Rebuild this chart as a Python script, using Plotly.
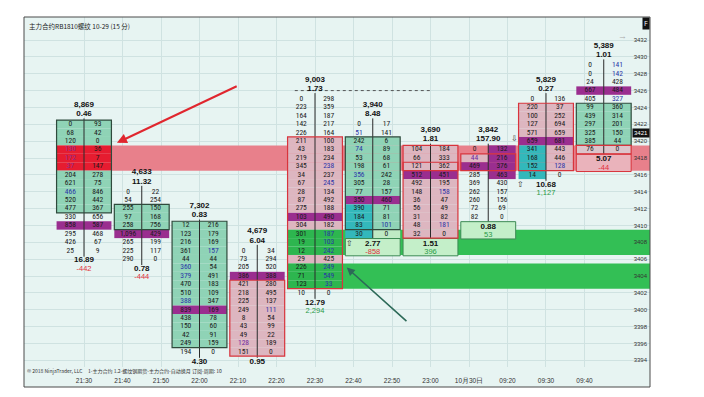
import plotly.graph_objects as go

# ---------------- data ----------------
TIME_TICKS = ["21:30", "21:40", "21:50", "22:00", "22:10", "22:20", "22:30",
              "22:40", "22:50", "23:00", "10月30日", "09:20", "09:30", "09:40"]
PRICE_TICKS = list(range(3394, 3434, 2))
LAST_PRICE = 3421

BAR_VOLUME = [8869, 4633, 7302, 4679, 9003, 3940, 3690, 3842, 5829, 5389]
HEAD_RATIO = ["0.46", "11.32", "0.83", "6.04", "1.73", "8.48", "1.81", "157.90", "0.27", "1.01"]
FOOT_RATIO = ["16.89", "0.78", "4.30", "0.95", "12.79", "2.77", "1.51", "0.88", "10.68", "5.07"]
FOOT_DELTA = [-442, -444, None, None, 2294, -858, 396, 53, 1127, -44]
TOP_PRICE = [3422, 3414, 3410, 3407, 3425, 3422, 3419, 3419, 3425, 3429]

BID_VOL = [
    [0, 68, 120, 130, 172, 37, 204, 621, 466, 520, 477, 330, 858, 295, 426, 25],
    [0, 54, 255, 97, 258, 1096, 265, 225, 290],
    [12, 123, 216, 361, 44, 360, 379, 470, 510, 388, 839, 438, 150, 42, 249, 194],
    [0, 73, 205, 386, 421, 218, 225, 249, 8, 43, 49, 128, 151],
    [0, 223, 164, 142, 226, 211, 43, 219, 345, 34, 67, 28, 87, 275, 103, 304,
     301, 19, 12, 29, 226, 71, 123, 10],
    [0, 51, 242, 74, 53, 198, 356, 305, 77, 350, 390, 184, 83, 30],
    [104, 66, 121, 512, 492, 148, 36, 56, 31, 48, 32],
    [0, 44, 469, 285, 369, 262, 260, 72, 82],
    [0, 220, 100, 127, 571, 659, 341, 168, 152, 14],
    [0, 0, 24, 667, 405, 99, 439, 297, 325, 385, 76],
]
ASK_VOL = [
    [93, 42, 0, 36, 7, 147, 278, 75, 846, 442, 367, 656, 587, 468, 67, 9],
    [22, 254, 150, 168, 756, 429, 199, 117, 0],
    [216, 179, 169, 157, 44, 54, 491, 183, 109, 347, 169, 78, 60, 91, 159, 0],
    [34, 294, 520, 388, 280, 495, 137, 111, 54, 99, 22, 189, 0],
    [298, 359, 187, 217, 164, 100, 183, 234, 238, 237, 245, 134, 492, 188, 490, 182,
     187, 103, 242, 425, 249, 549, 33, 0],
    [17, 141, 6, 89, 68, 61, 242, 28, 157, 460, 71, 81, 101, 0],
    [184, 333, 362, 451, 195, 158, 47, 49, 82, 181, 0],
    [132, 216, 376, 463, 430, 157, 156, 69, 0],
    [136, 37, 252, 694, 659, 681, 443, 446, 128, 0],
    [141, 142, 428, 484, 327, 360, 314, 201, 150, 44, 0],
]

# ---------------- cell styling ----------------
# two characters per row: bid cell, ask cell
FILL_CODES = [
    ["gg", "gg", "gg", "rr", "rr", "rr", "gg", "gg", "gg", "gg", "gg", "..", "pp", "..", "..", ".."],
    ["..", "..", "gg", "gg", "gg", "pp", "..", "..", ".."],
    ["gg"] * 10 + ["pp"] + ["gg"] * 4 + [".."],
    ["..", "..", "..", "pp"] + ["kk"] * 9,
    [".."] * 5 + ["kk"] * 9 + ["pp", "kk", "GG", "GG", "GG", "kk", "GG", "GG", "GG", ".."],
    ["..", ".."] + ["gg"] * 7 + ["pp", "tg", "tg", "tg", "tl"],
    ["kk", "kk", "kk", "pp"] + ["kk"] * 7,
    [".p", "kp", "pp", ".p", "..", "..", "..", "..", ".."],
    ["..", "kk", "kk", "kk", "kk", "pp", "tk", "tk", "tk", "t."],
    ["..", "..", "..", "pp", "..", "gg", "gg", "gg", "gg", "gg", "qq"],
]
TEXT_CODES = [
    ["..", "..", "..", "m.", "m.", "m.", "..", "..", "b.", "..", "..", "..", "..", "..", "..", ".."],
    [".."] * 9,
    ["..", "..", "..", ".b", "..", "b.", "b.", "..", "..", "b.", "..", "..", "..", "..", "..", ".."],
    ["..", "..", "..", "..", "..", "..", "..", ".b", "..", "..", "..", "v.", ".."],
    [".."] * 8 + [".b", "..", ".b"] + [".."] * 5 + [".b", ".b", ".b", "..", ".b", ".b", ".b", ".."],
    ["..", "b.", "..", "b.", "..", "..", "b.", "..", "..", "..", "..", "..", ".b", ".."],
    ["..", "..", "..", "..", "..", ".b", "..", "..", "..", ".b", ".."],
    ["..", "v.", "..", "..", "..", "..", "..", "..", ".."],
    ["..", "..", "..", "..", "..", "..", "..", "..", ".b", ".."],
    [".b", ".b", "..", "..", ".b", "..", "..", "..", "..", "..", ".."],
]
# outlined blocks: (bar, high price, low price, colour key)
OUTLINES = [
    (0, 3422, 3412, "dark"), (1, 3412, 3410, "dark"), (2, 3410, 3396, "dark"),
    (3, 3403, 3395, "red"), (4, 3420, 3403, "red"), (5, 3420, 3410, "dark"),
    (6, 3419, 3409, "red"), (6, 3417, 3417, "red"), (7, 3418, 3417, "red"),
    (8, 3424, 3417, "red"), (9, 3424, 3420, "dark"), (9, 3419, 3419, "red"),
]
FOOT_BOX = [None, None, None, None, None, "green", "green", "green", None, "rose"]

FILL = {"g": "#8fd3b6", "r": "#e61c30", "p": "#9a2e8f", "k": "#ddb6c0",
        "t": "#33b8bb", "G": "#2db64f", "q": "#dcc4ca", "l": "#bfeac4"}
TEXT = {".": "#1b1b1b", "b": "#2b35a8", "v": "#6f2aa0", "m": "#8e2c8c"}
EDGE = {"dark": "#2f4a3c", "red": "#d8343c"}
BG = "#e7f4f2"
GRID = "#cfe2e1"
HALF = 0.475

# ---------------- axes geometry ----------------
PLOT_TOP, PLOT_BOTTOM, FRAME_BOTTOM = 17, 367, 387
X_RANGE = [-1.039, 9.801]
Y_RANGE = [3393.21, 3434.73]
STRIP = (PLOT_BOTTOM - FRAME_BOTTOM) / (PLOT_BOTTOM - PLOT_TOP)

fig = go.Figure()
shapes = []

# highlighted price zones running to the right edge
shapes.append(dict(type="rect", xref="x", yref="y", x0=HALF, x1=X_RANGE[1] + 1,
                   y0=3416.5, y1=3419.5, fillcolor="#e8808b", line_width=0, layer="between"))
for lo, hi in [(3406.5, 3409.5), (3402.5, 3405.5)]:
    shapes.append(dict(type="rect", xref="x", yref="y", x0=4 + HALF, x1=X_RANGE[1] + 1,
                       y0=lo, y1=hi, fillcolor="#33bf55", line_width=0, layer="between"))

text_groups = {}


def add_text(color, x, y, t):
    g = text_groups.setdefault(color, ([], [], []))
    g[0].append(x)
    g[1].append(y)
    g[2].append(t)


for i, top in enumerate(TOP_PRICE):
    bids, asks = BID_VOL[i], ASK_VOL[i]
    n = len(bids)
    bottom = top - n + 1
    for r in range(n):
        p = top - r
        fc, tc = FILL_CODES[i][r], TEXT_CODES[i][r]
        for side, (x0, x1) in enumerate([(i - HALF, i), (i, i + HALF)]):
            if fc[side] != ".":
                shapes.append(dict(type="rect", xref="x", yref="y", x0=x0, x1=x1,
                                   y0=p - 0.5, y1=p + 0.5, fillcolor=FILL[fc[side]],
                                   line_width=0, layer="between"))
        add_text(TEXT[tc[0]], i - HALF / 2, p, f"{bids[r]:,}")
        add_text(TEXT[tc[1]], i + HALF / 2, p, f"{asks[r]:,}")
    # centre line of the bar
    shapes.append(dict(type="line", xref="x", yref="y", x0=i, x1=i,
                       y0=top + 0.7, y1=bottom - 0.7,
                       line=dict(color="#2a2a2a", width=1), layer="between"))
    # footer boxes
    if FOOT_BOX[i] == "green":
        shapes.append(dict(type="rect", xref="x", yref="y", x0=i - HALF, x1=i + HALF,
                           y0=bottom - 2.6, y1=bottom - 0.55, fillcolor="#c4efc9",
                           line=dict(color="#3d8a55", width=1), layer="between"))
    elif FOOT_BOX[i] == "rose":
        shapes.append(dict(type="rect", xref="x", yref="y", x0=i - HALF, x1=i + HALF,
                           y0=bottom - 2.6, y1=bottom - 0.55, fillcolor="#eab3bb",
                           line=dict(color="#d8343c", width=1), layer="between"))

for (i, hi, lo, key) in OUTLINES:
    shapes.append(dict(type="rect", xref="x", yref="y", x0=i - HALF, x1=i + HALF,
                       y0=lo - 0.5, y1=hi + 0.5, fillcolor="rgba(0,0,0,0)",
                       line=dict(color=EDGE[key], width=1.2), layer="between"))

CELL_FONT = "Liberation Sans Narrow, Roboto Condensed, Liberation Sans, Arial"
for color, (xs, ys, ts) in text_groups.items():
    fig.add_trace(go.Scatter(x=xs, y=ys, text=ts, mode="text", textposition="middle center",
                             textfont=dict(family=CELL_FONT, size=7.5, color=color),
                             hoverinfo="skip"))

# header and footer figures
hx, hy, ht = [], [], []
fx, fy, ft = [], [], []
dxp, dyp, dtp, dxn, dyn, dtn = [], [], [], [], [], []
for i, top in enumerate(TOP_PRICE):
    bottom = top - len(BID_VOL[i]) + 1
    hx += [i, i]
    hy += [top + 2.3, top + 1.2]
    ht += [f"<b>{BAR_VOLUME[i]:,}</b>", f"<b>{HEAD_RATIO[i]}</b>"]
    fx.append(i)
    fy.append(bottom - 1.15)
    ft.append(f"<b>{FOOT_RATIO[i]}</b>")
    d = FOOT_DELTA[i]
    if d is not None:
        if d >= 0:
            dxp.append(i); dyp.append(bottom - 2.15); dtp.append(f"{d:,}")
        else:
            dxn.append(i); dyn.append(bottom - 2.15); dtn.append(f"{d:,}")

BOLD_FONT = "Liberation Sans, Arial"
fig.add_trace(go.Scatter(x=hx, y=hy, text=ht, mode="text",
                         textfont=dict(family=BOLD_FONT, size=8, color="#111"), hoverinfo="skip"))
fig.add_trace(go.Scatter(x=fx, y=fy, text=ft, mode="text",
                         textfont=dict(family=BOLD_FONT, size=8, color="#111"), hoverinfo="skip"))
fig.add_trace(go.Scatter(x=dxp, y=dyp, text=dtp, mode="text",
                         textfont=dict(family=BOLD_FONT, size=7.5, color="#2a9a48"), hoverinfo="skip"))
fig.add_trace(go.Scatter(x=dxn, y=dyn, text=dtn, mode="text",
                         textfont=dict(family=BOLD_FONT, size=7.5, color="#e2303c"), hoverinfo="skip"))

# small direction marks beside some bars
fig.add_trace(go.Scatter(x=[5 - 0.4, 8 - 0.45, 7 + 0.45], y=[3407.8, 3414.8, 3420.2],
                         text=["⇧", "⇧", "⇩"], mode="text",
                         textfont=dict(size=8, color="#333"), hoverinfo="skip"))

# dotted reference level
shapes.append(dict(type="line", xref="x", yref="y", x0=3.65, x1=6.0, y0=3426, y1=3426,
                   line=dict(color="#555", width=1, dash="dot"), layer="between"))

# frame and bottom time strip
shapes.append(dict(type="rect", xref="paper", yref="paper", x0=0, x1=1, y0=STRIP, y1=0,
                   fillcolor=BG, line_width=0, layer="below"))
shapes.append(dict(type="rect", xref="paper", yref="paper", x0=0, x1=1, y0=STRIP, y1=1,
                   fillcolor="rgba(0,0,0,0)", line=dict(color="#4a4a4a", width=1), layer="above"))

annotations = [
    dict(xref="paper", yref="paper", x=0, y=1, xanchor="left", yanchor="top", xshift=3, yshift=-2,
         text="主力合约RB1810螺纹 10-29 (15 分)", showarrow=False,
         font=dict(family="Noto Sans CJK SC", size=6.5, color="#222")),
    dict(xref="paper", yref="paper", x=0, y=0, xanchor="left", yanchor="middle", xshift=1, yshift=-4,
         text="© 2018 NinjaTrader, LLC     1-主力合约 1.2-螺纹钢期货-主力合约-自动换月 订阅-周期: 10",
         showarrow=False, font=dict(family="Noto Sans CJK SC", size=5, color="#333")),
    dict(xref="paper", yref="paper", x=1, y=1, xanchor="right", yanchor="top", text="F",
         showarrow=False, bgcolor="#111", font=dict(size=7, color="white"), borderpad=1),
    dict(xref="paper", yref="paper", x=0.967, y=0.972, text="→", showarrow=False,
         font=dict(size=9, color="#aaa")),
    # last traded price marker on the price scale
    dict(xref="paper", yref="y", x=1, y=LAST_PRICE, xanchor="right", yanchor="middle",
         text=str(LAST_PRICE), showarrow=False, bgcolor="#111", borderpad=1,
         font=dict(family="Liberation Sans Narrow, Liberation Sans", size=6, color="white")),
    # pointers to the highlighted zones
    dict(x=0.57, y=3419.8, ax=2.67, ay=3426.6, xref="x", yref="y", axref="x", ayref="y",
         showarrow=True, arrowhead=2, arrowsize=1, arrowwidth=2, arrowcolor="#e0262e", text=""),
    dict(x=4.55, y=3405.0, ax=5.61, ay=3398.5, xref="x", yref="y", axref="x", ayref="y",
         showarrow=True, arrowhead=2, arrowsize=1, arrowwidth=1.6, arrowcolor="#2d6a58", text=""),
]

fig.update_layout(
    width=704, height=397,
    margin=dict(l=24, r=54, t=PLOT_TOP, b=397 - PLOT_BOTTOM),
    paper_bgcolor="white", plot_bgcolor=BG,
    showlegend=False,
    shapes=shapes,
    annotations=annotations,
    xaxis=dict(range=X_RANGE, tickvals=[k * 2 / 3 for k in range(len(TIME_TICKS))],
               ticktext=TIME_TICKS, showgrid=True, gridcolor=GRID, gridwidth=1,
               zeroline=False, ticks="", ticklabelstandoff=8,
               tickfont=dict(family="Liberation Sans Narrow, Liberation Sans", size=6.5, color="#333"),
               showline=False),
    yaxis=dict(range=Y_RANGE, side="right", tickvals=PRICE_TICKS,
               ticktext=[str(p) for p in PRICE_TICKS], ticklabelposition="inside",
               showgrid=True, gridcolor=GRID, zeroline=False, ticks="",
               tickfont=dict(family="Liberation Sans Narrow, Liberation Sans", size=6, color="#333"),
               showline=False),
)

fig.write_html("out.html")
